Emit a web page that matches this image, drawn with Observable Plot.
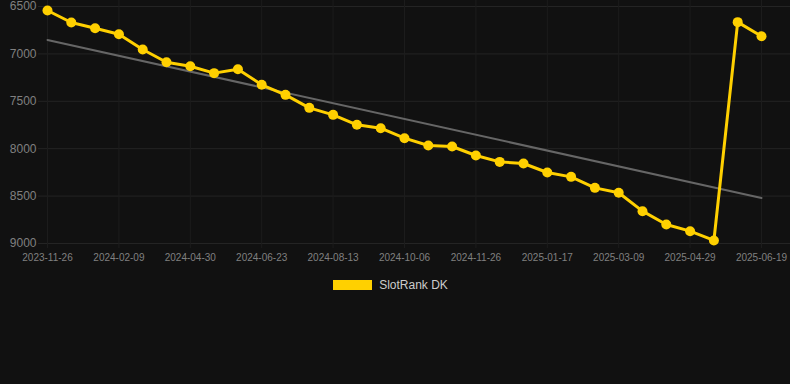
<!DOCTYPE html>
<html>
<head>
<meta charset="utf-8">
<script src="https://cdn.jsdelivr.net/npm/d3@7"></script>
<script src="https://cdn.jsdelivr.net/npm/@observablehq/plot@0.6"></script>
<style>
  html, body { margin: 0; padding: 0; background: #111111; width: 790px; height: 384px; overflow: hidden; }
  #legend { display: flex; justify-content: center; align-items: center; margin-top: 8px; font-family: "Liberation Sans", Arial, sans-serif; font-size: 12px; color: #cccccc; padding-right: 9px; }
  #legend .sw { width: 39px; height: 10px; background: #FFD000; margin-right: 7px; }
</style>
</head>
<body>
<div id="chart"></div>
<div id="legend"><div class="sw"></div><span>SlotRank DK</span></div>
<script>
const dates = [
  "2023-11-26","2023-12-21","2024-01-15","2024-02-09","2024-03-06","2024-04-03",
  "2024-04-30","2024-05-18","2024-06-05","2024-06-23","2024-07-10","2024-07-27",
  "2024-08-13","2024-08-31","2024-09-18","2024-10-06","2024-10-23","2024-11-09",
  "2024-11-26","2024-12-13","2024-12-31","2025-01-17","2025-02-03","2025-02-20",
  "2025-03-09","2025-03-26","2025-04-12","2025-04-29","2025-05-16","2025-06-02",
  "2025-06-19"
];
const ranks = [
  6542, 6669, 6729, 6792, 6954, 7088, 7130, 7203, 7161, 7326, 7432, 7569,
  7643, 7748, 7784, 7889, 7966, 7977, 8072, 8139, 8156, 8251, 8297, 8413,
  8465, 8659, 8799, 8870, 8968, 6665, 6813
];
const tickDates = dates.filter((d, i) => i % 3 === 0);
const yTicks = [6500, 7000, 7500, 8000, 8500, 9000];
const trendDates = ["2023-11-26", "2025-06-19"];
const trendValues = [6853, 8520];

const pos = d => dates.indexOf(d);
const series = dates.map((d, i) => ({date: d, rank: ranks[i]}));
const trend = trendDates.map((d, i) => ({date: d, rank: trendValues[i]}));
const tickPos = tickDates.map(pos);

const chart = Plot.plot({
  width: 790,
  height: 270,
  marginTop: 6,
  marginBottom: 27,
  marginLeft: 47,
  marginRight: 29,
  style: { background: "#111111", color: "#808080", fontFamily: "Liberation Sans, Arial, sans-serif", fontSize: "10px" },
  x: { type: "linear", domain: [0, dates.length - 1] },
  y: { domain: [6500, 9000], reverse: true },
  marks: [
    Plot.gridY(yTicks, { stroke: "#242424", strokeOpacity: 1, strokeWidth: 1, insetLeft: -9, insetRight: -29 }),
    Plot.gridX(tickPos, { stroke: "#1c1c1c", strokeOpacity: 1, strokeWidth: 1, insetTop: -6, insetBottom: -5 }),
    Plot.axisY(yTicks, { tickSize: 0, tickPadding: 11, fontSize: 12, fill: "#808080", label: null, tickFormat: d => String(d) }),
    Plot.axisX(tickPos, { tickSize: 0, tickPadding: 10, fontSize: 10, fill: "#808080", label: null, tickFormat: i => dates[i] }),
    Plot.line(trend, { x: d => pos(d.date), y: "rank", stroke: "#666666", strokeWidth: 2 }),
    Plot.line(series, { x: d => pos(d.date), y: "rank", stroke: "#FFD000", strokeWidth: 3 }),
    Plot.dot(series, { x: d => pos(d.date), y: "rank", r: 5, fill: "#FFD000", stroke: "none" })
  ]
});
document.getElementById("chart").appendChild(chart);
</script>
</body>
</html>
